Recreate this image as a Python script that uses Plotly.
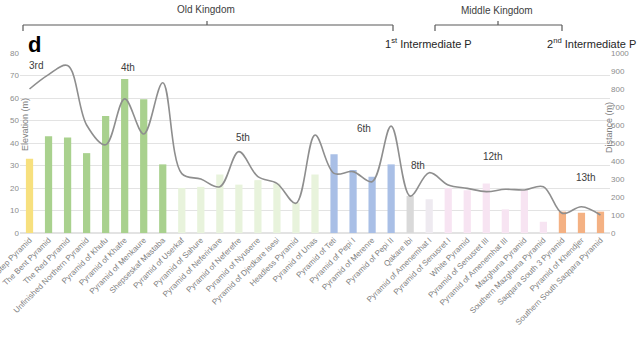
import plotly.graph_objects as go

pyramids = [
    "Step Pyramid", "The Bent Pyramid", "The Red Pyramid", "Unfinished Northern Pyramid",
    "Pyramid of Khufu", "Pyramid of Khafre", "Pyramid of Menkaure", "Shepseskaf Mastaba",
    "Pyramid of Userkaf", "Pyramid of Sahure", "Pyramid of Neferirkare", "Pyramid of Neferefre",
    "Pyramid of Nyuserre", "Pyramid of Djedkare Isesi", "Headless Pyramid", "Pyramid of Unas",
    "Pyramid of Teti", "Pyramid of Pepi I", "Pyramid of Merenre", "Pyramid of Pepi II",
    "Qakare Ibi", "Pyramid of Amenemhat I", "Pyramid of Senusret I", "White Pyramid",
    "Pyramid of Senusret III", "Pyramid of Amenemhat III", "Mazghuna Pyramid",
    "Southern Mazghuna Pyramid", "Saqqara South 3 Pyramid", "Pyramid of Khendjer",
    "Southern South Saqqara Pyramid",
]
elevation = [33, 43, 42.5, 35.5, 52, 68.5, 59.5, 30.5,
             20, 20.5, 26, 21.5, 23.5, 22, 13.5, 26,
             35, 28, 25, 30.5,
             16.5, 15, 20, 19, 22, 10.5, 19, 5, 9.5, 9, 9.5]
distance = [800, 880, 930, 600, 490, 745, 550, 835,
            330, 300, 257, 452, 313, 276, 165, 544,
            331, 341, 285, 594,
            205, 335, 267, 248, 230, 243, 239, 257, 109, 146, 100]
dynasty = ["3rd"] + ["4th"] * 7 + ["5th"] * 8 + ["6th"] * 4 + ["8th"] + ["12th"] * 7 + ["13th"] * 3

dyn_colors = {"3rd": "#F7E07E", "4th": "#A9D18E", "5th": "#E8F3DC", "6th": "#A9BFE6",
              "8th": "#D9D9D9", "12th": "#F7E4F2", "13th": "#F4B183"}
bar_colors = [dyn_colors[d] for d in dynasty]
bar_colors[21] = "#EEEAF0"

dyn_labels = ["3rd", "4th", "5th", "6th", "8th", "12th", "13th"]
dyn_lx = [0.35, 5.15, 11.2, 17.6, 20.4, 24.3, 29.2]
dyn_ly = [74.5, 73.5, 42.5, 46.5, 30, 34, 24.5]

fig = go.Figure()
fig.add_trace(go.Bar(x=pyramids, y=elevation, marker=dict(color=bar_colors, line=dict(width=0)),
                     width=0.38, showlegend=False))
fig.add_trace(go.Scatter(x=pyramids, y=distance, yaxis="y2", mode="lines",
                         line=dict(color="#8E8E8E", width=1.6, shape="spline", smoothing=1.0),
                         showlegend=False))

L, R, T, B = 20, 30, 53, 127
PW, PH = 640 - L - R, 360 - T - B

def px(x):
    return (x - L) / PW

def py(y):
    return (T + PH - y) / PH

def ann(x, y, text, size, color, **kw):
    d = dict(x=x, y=y, text=text, showarrow=False, xanchor="center", yanchor="middle",
             font=dict(size=size, color=color))
    d.update(kw)
    return d

annotations = []
for lab, lx, ly in zip(dyn_labels, dyn_lx, dyn_ly):
    annotations.append(ann(lx, ly, lab, 10, "#404040", xref="x", yref="y"))
annotations += [
    ann(px(206), py(10), "Old Kingdom", 10, "#404040", xref="paper", yref="paper"),
    ann(px(497), py(11), "Middle Kingdom", 10, "#404040", xref="paper", yref="paper"),
    ann(px(428), py(42.5), "1<sup>st</sup> Intermediate P", 11, "#262626", xref="paper", yref="paper"),
    ann(px(591), py(42.5), "2<sup>nd</sup> Intermediate P", 11, "#262626", xref="paper", yref="paper"),
    dict(x=px(34), y=py(45), xref="paper", yref="paper", text="<b>d</b>", showarrow=False,
         xanchor="center", yanchor="middle",
         font=dict(size=22, color="#000000", family="Liberation Sans")),
    ann(px(25), py(125), "Elevation (m)", 9, "#808080", xref="paper", yref="paper", textangle=-90),
    ann(px(609), py(128), "Distance (m)", 9, "#808080", xref="paper", yref="paper", textangle=-90),
]

shapes = []
def bracket(x0, x1, xm):
    c = dict(color="#595959", width=1.2)
    shapes.append(dict(type="line", xref="paper", yref="paper", x0=px(x0), x1=px(x1), y0=py(25), y1=py(25), line=c))
    shapes.append(dict(type="line", xref="paper", yref="paper", x0=px(x0), x1=px(x0), y0=py(25), y1=py(31), line=c))
    shapes.append(dict(type="line", xref="paper", yref="paper", x0=px(x1), x1=px(x1), y0=py(25), y1=py(31), line=c))
    shapes.append(dict(type="line", xref="paper", yref="paper", x0=px(xm), x1=px(xm), y0=py(25), y1=py(21), line=c))

bracket(23, 393, 207)
bracket(435, 562, 498)

fig.update_layout(
    width=640, height=360,
    margin=dict(l=L, r=R, t=T, b=B, autoexpand=False),
    paper_bgcolor="white", plot_bgcolor="white",
    font=dict(family="Liberation Sans", size=8, color="#808080"),
    xaxis=dict(tickangle=-45, tickfont=dict(size=8, color="#7F7F7F"), showgrid=False,
               showline=False, ticks="", range=[-0.5, 30.5], automargin=False),
    yaxis=dict(range=[0, 80], dtick=10, showgrid=True, gridcolor="#E3E3E3", gridwidth=1,
               zeroline=True, zerolinecolor="#E3E3E3", tickfont=dict(size=8, color="#8C8C8C"),
               ticks="", showline=False, automargin=False),
    yaxis2=dict(range=[0, 1000], dtick=100, overlaying="y", side="right", showgrid=False,
                zeroline=False, tickfont=dict(size=8, color="#8C8C8C"), ticks="", showline=False,
                automargin=False),
    bargap=0.6,
    annotations=annotations,
    shapes=shapes,
)

fig.write_html("out.html", config={"displayModeBar": False},
               post_script="document.body.style.margin='0';document.body.style.padding='0';")
